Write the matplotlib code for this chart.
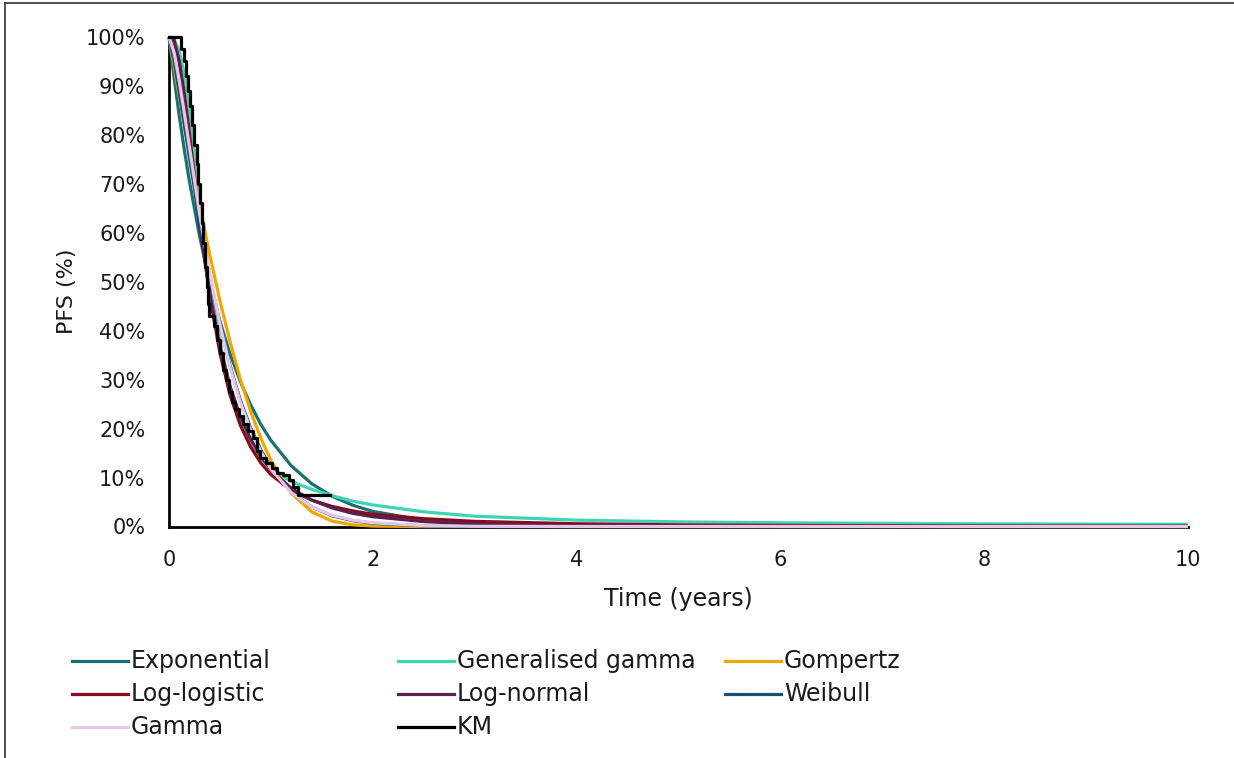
import matplotlib
matplotlib.use("Agg")
import matplotlib.pyplot as plt
from matplotlib.lines import Line2D
from matplotlib.ticker import PercentFormatter, MultipleLocator

# time grid (years) used for the fitted curves
t_grid = [0, 0.05, 0.1, 0.15, 0.2, 0.3, 0.4, 0.5, 0.6, 0.7, 0.8, 0.9, 1.0,
          1.2, 1.4, 1.6, 1.8, 2.0, 2.5, 3, 4, 5, 6, 8, 10]

exponential = [1, 0.917, 0.840, 0.770, 0.706, 0.593, 0.499, 0.419, 0.352, 0.296, 0.249, 0.209, 0.176,
               0.124, 0.0875, 0.0618, 0.0437, 0.0308, 0.0129, 0.0054, 0.001, 0.0002, 0, 0, 0]
gen_gamma = [1, 0.995, 0.972, 0.925, 0.855, 0.675, 0.505, 0.375, 0.283, 0.218, 0.172, 0.140, 0.117,
             0.092, 0.076, 0.063, 0.052, 0.044, 0.030, 0.021, 0.013, 0.0095, 0.0075, 0.0055, 0.0045]
gompertz = [1, 0.940, 0.880, 0.822, 0.766, 0.657, 0.555, 0.461, 0.377, 0.301, 0.236, 0.181, 0.135,
            0.068, 0.030, 0.011, 0.0035, 0.0008, 0, 0, 0, 0, 0, 0, 0]
log_logistic = [1, 0.989, 0.950, 0.885, 0.804, 0.627, 0.472, 0.354, 0.268, 0.207, 0.163, 0.130, 0.106,
                0.074, 0.054, 0.041, 0.032, 0.025, 0.016, 0.0105, 0.0056, 0.0034, 0.0023, 0.0012, 0.0008]
log_normal = [1, 0.994, 0.950, 0.874, 0.786, 0.615, 0.475, 0.367, 0.286, 0.225, 0.179, 0.144, 0.116,
              0.078, 0.054, 0.038, 0.027, 0.020, 0.010, 0.0054, 0.0018, 0.0007, 0.0003, 0.0001, 0]
weibull = [1, 0.951, 0.888, 0.821, 0.754, 0.625, 0.511, 0.411, 0.328, 0.258, 0.202, 0.157, 0.121,
           0.070, 0.040, 0.022, 0.012, 0.0066, 0.0013, 0.0002, 0, 0, 0, 0, 0]
gamma = [1, 0.968, 0.911, 0.845, 0.776, 0.639, 0.517, 0.412, 0.325, 0.254, 0.198, 0.153, 0.118,
         0.069, 0.040, 0.023, 0.013, 0.0076, 0.0018, 0.0004, 0, 0, 0, 0, 0]

# Kaplan-Meier steps
km_time = [0, 0.12, 0.15, 0.17, 0.19, 0.21, 0.23, 0.25, 0.27, 0.285, 0.30, 0.32, 0.33, 0.35, 0.37,
           0.385, 0.39, 0.44, 0.47, 0.50, 0.53, 0.56, 0.59, 0.62, 0.65, 0.69, 0.73, 0.78, 0.82,
           0.86, 0.89, 0.95, 1.01, 1.06, 1.12, 1.18, 1.22, 1.27, 1.58]
km_surv = [1.0, 0.975, 0.95, 0.92, 0.89, 0.86, 0.82, 0.78, 0.74, 0.70, 0.66, 0.62, 0.58, 0.53, 0.49,
           0.455, 0.43, 0.41, 0.38, 0.355, 0.32, 0.30, 0.275, 0.255, 0.24, 0.225, 0.21, 0.195, 0.18,
           0.155, 0.14, 0.13, 0.12, 0.11, 0.105, 0.094, 0.08, 0.064, 0.064]

names = ["Exponential", "Generalised gamma", "Gompertz", "Log-logistic", "Log-normal",
         "Weibull", "Gamma", "KM"]
colors = ["#1b7170", "#3dd6b5", "#f0a800", "#8b0a1a", "#5a2150", "#17536e", "#e8c6e6", "black"]
curves = [exponential, gen_gamma, gompertz, log_logistic, log_normal, weibull, gamma]

W, H = 1234, 758
fig = plt.figure(figsize=(W / 100, H / 100), dpi=100)
ax = fig.add_axes([169 / W, 1 - 526.5 / H, (1188 - 169) / W, (526.5 - 37) / H])

for vals, c in zip(curves, colors[:-1]):
    ax.plot(t_grid, vals, color=c, lw=2.3, zorder=3, clip_on=False, solid_capstyle="butt")
ax.step(km_time, km_surv, where="post", color="black", lw=2.3, zorder=4, clip_on=False)

ax.set_xlim(0, 10)
ax.set_ylim(0, 1)
ax.xaxis.set_major_locator(MultipleLocator(2))
ax.yaxis.set_major_locator(MultipleLocator(0.1))
ax.yaxis.set_major_formatter(PercentFormatter(1.0, decimals=0))
ax.tick_params(length=0, labelsize=15, colors="#1a1a1a")
ax.tick_params(axis="y", pad=17)
ax.tick_params(axis="x", pad=17)
for s in ["top", "right"]:
    ax.spines[s].set_visible(False)
for s in ["left", "bottom"]:
    ax.spines[s].set_linewidth(2)
    ax.spines[s].set_color("black")

ax.set_xlabel("Time (years)", fontsize=17, color="#1a1a1a")
ax.xaxis.set_label_coords(0.5, (526.5 - 587) / 489.5)
ax.xaxis.label.set_va("top")
ax.set_ylabel("PFS (%)", fontsize=16, color="#1a1a1a")
ax.yaxis.set_label_coords((77 - 169) / 1019, (526.5 - 291) / 489.5)

# legend laid out like the original (equal column widths)
col_x = [72, 398, 725]
row_y = [661, 694, 727]
for i, (name, c) in enumerate(zip(names, colors)):
    x0 = col_x[i % 3]
    y0 = row_y[i // 3]
    fig.add_artist(Line2D([x0 / W, (x0 + 56) / W], [1 - y0 / H, 1 - y0 / H],
                          color=c, lw=2.3, transform=fig.transFigure))
    fig.text((x0 + 59) / W, 1 - y0 / H, name, fontsize=17, va="center", ha="left",
             color="#1a1a1a")

# thin frame around the chart area (left and top edges visible)
fig.add_artist(Line2D([5 / W, 5 / W], [0, 1 - 3 / H], color="#333333", lw=1.2,
                      transform=fig.transFigure))
fig.add_artist(Line2D([5 / W, 1], [1 - 3 / H, 1 - 3 / H], color="#333333", lw=1.2,
                      transform=fig.transFigure))

fig.savefig("out.png", dpi=100)
